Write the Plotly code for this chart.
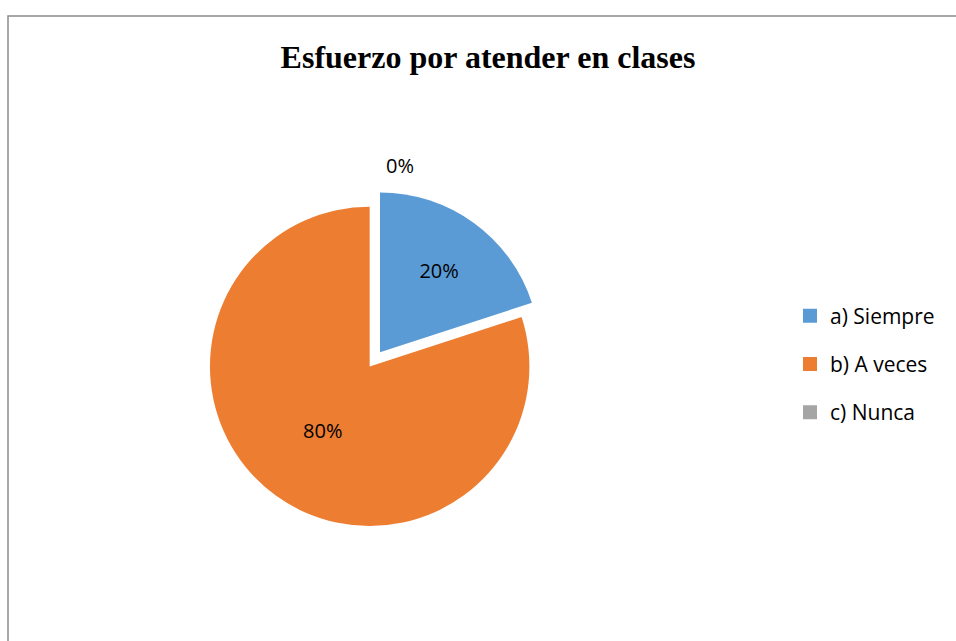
import plotly.graph_objects as go

categories = ["a) Siempre", "b) A veces", "c) Nunca"]
values = [20, 80, 0]
colors = ["#5B9BD5", "#ED7D31", "#A5A5A5"]
title_text = "Esfuerzo por atender en clases"

W, H = 956, 641

fig = go.Figure()
fig.add_trace(go.Pie(
    labels=categories,
    values=values,
    sort=False,
    direction="clockwise",
    rotation=0,
    marker=dict(colors=colors, line=dict(width=0)),
    pull=[0.08, 0.03, 0],
    texttemplate="%{percent:.0%}",
    textposition="inside",
    insidetextorientation="horizontal",
    textfont=dict(family="Open Sans", size=20, color="#000000"),
    domain=dict(x=[200 / W, 545 / W], y=[1 - 535 / H, 1 - 190 / H]),
    showlegend=False,
    hoverinfo="label+percent",
))

# legend entries (one group per category so the spacing matches the reference)
for i, (cat, col) in enumerate(zip(categories, colors)):
    fig.add_trace(go.Scatter(
        x=[None], y=[None], mode="markers", name=cat,
        marker=dict(symbol="square", size=14, color=col),
        legendgroup=f"g{i}", showlegend=True, hoverinfo="skip",
    ))

fig.update_layout(
    width=W, height=H,
    margin=dict(l=0, r=0, t=0, b=0),
    paper_bgcolor="white",
    plot_bgcolor="white",
    xaxis=dict(visible=False),
    yaxis=dict(visible=False),
    title=dict(text=f"<b>{title_text}</b>", x=488 / W, xanchor="center",
               y=1 - 57 / H, yanchor="middle",
               font=dict(family="Liberation Serif", size=32, color="#000000")),
    legend=dict(x=790 / W, xanchor="left", y=1 - 364 / H, yanchor="middle",
                font=dict(family="Open Sans", size=21, color="#000000"),
                tracegroupgap=18, itemwidth=30, bgcolor="rgba(0,0,0,0)"),
    annotations=[dict(text="0%", x=400 / W, y=1 - 165 / H, xref="paper", yref="paper",
                      xanchor="center", yanchor="middle",
                      showarrow=False, font=dict(family="Open Sans", size=20, color="#000000"))],
    shapes=[dict(type="rect", xref="paper", yref="paper",
                 x0=8 / W, x1=1.2, y0=-0.2, y1=1 - 16 / H,
                 line=dict(color="#8C8C8C", width=1.5), fillcolor="rgba(0,0,0,0)")],
)

fig.write_html("out.html", config={"displayModeBar": False},
               post_script="document.body.style.margin='0';")
